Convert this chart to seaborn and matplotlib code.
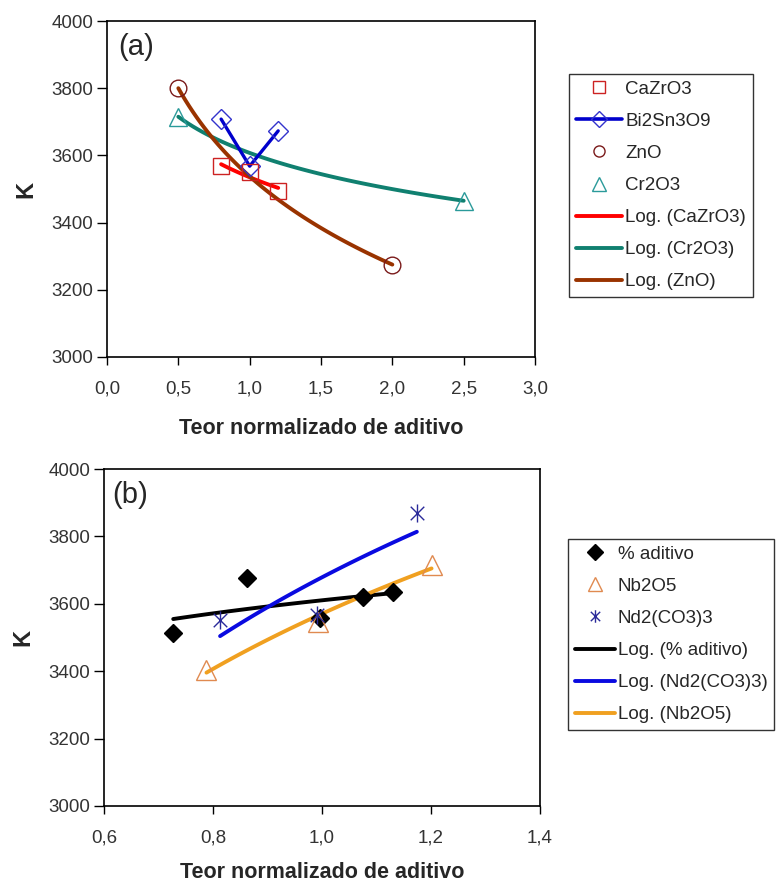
import numpy as np
import pandas as pd
import matplotlib
matplotlib.use("Agg")
import matplotlib.pyplot as plt
from matplotlib.lines import Line2D
from matplotlib.path import Path
import seaborn as sns

sns.set_style("white")
plt.rcParams['font.family'] = ['Liberation Sans', 'DejaVu Sans']

# ---- data, panel (a) ----
cazro3_x = [0.8, 1.0, 1.2]
cazro3_k = [3567, 3550, 3495]
bi2sn3o9_x = [0.8, 1.0, 1.2]
bi2sn3o9_k = [3708, 3568, 3673]
zno_x = [0.5, 2.0]
zno_k = [3800, 3275]
cr2o3_x = [0.5, 2.5]
cr2o3_k = [3715, 3465]

# ---- data, panel (b) ----
aditivo_x = [0.727, 0.862, 0.996, 1.076, 1.131]
aditivo_k = [3514, 3676, 3557, 3621, 3636]
nb2o5_x = [0.788, 0.993, 1.201]
nb2o5_k = [3404, 3547, 3715]
nd_x = [0.813, 0.99, 1.174]
nd_k = [3552, 3567, 3869]

xlabel = "Teor normalizado de aditivo"


def log_trend(x, y, n=60):
    # Excel style logarithmic trendline y = a*ln(x) + b
    a, b = np.polyfit(np.log(x), y, 1)
    xs = np.linspace(min(x), max(x), n)
    return pd.DataFrame({"x": xs, "k": a * np.log(xs) + b})


# asterisk marker like Excel's star
star = Path([(0, -1), (0, 1), (-0.75, -0.75), (0.75, 0.75), (-0.75, 0.75), (0.75, -0.75)],
            [Path.MOVETO, Path.LINETO, Path.MOVETO, Path.LINETO, Path.MOVETO, Path.LINETO])

fig = plt.figure(figsize=(7.76, 8.86), dpi=100)
ax1 = fig.add_axes([107 / 776, 1 - 357 / 886, 428 / 776, 336 / 886])
ax2 = fig.add_axes([104 / 776, 1 - 806 / 886, 436 / 776, 337 / 886])

c_red, c_blue, c_brown, c_teal = "#FF0000", "#0000CC", "#993300", "#108070"

# panel (a) trend lines
for x, y, col in [(cazro3_x, cazro3_k, c_red), (cr2o3_x, cr2o3_k, c_teal), (zno_x, zno_k, c_brown)]:
    sns.lineplot(data=log_trend(x, y), x="x", y="k", color=col, lw=2.8, ax=ax1)
sns.lineplot(x=bi2sn3o9_x, y=bi2sn3o9_k, color=c_blue, lw=2.4, sort=False, ax=ax1,
             marker="D", markersize=10, markerfacecolor="none", markeredgecolor="#3333CC",
             markeredgewidth=1.0)
ax1.plot(cazro3_x, cazro3_k, ls="none", marker="s", ms=12, mfc="none", mec="#CC2222", mew=1.0)
ax1.plot(zno_x, zno_k, ls="none", marker="o", ms=12, mfc="none", mec="#7A1A1A", mew=1.0)
ax1.plot(cr2o3_x, cr2o3_k, ls="none", marker="^", ms=13, mfc="none", mec="#2A9A9A", mew=1.0)

# panel (b) trend lines
sns.lineplot(data=log_trend(aditivo_x, aditivo_k), x="x", y="k", color="black", lw=2.8, ax=ax2)
sns.lineplot(data=log_trend(nd_x, nd_k), x="x", y="k", color="#0A0AE0", lw=2.8, ax=ax2)
sns.lineplot(data=log_trend(nb2o5_x, nb2o5_k), x="x", y="k", color="#F0A020", lw=2.8, ax=ax2)
ax2.plot(aditivo_x, aditivo_k, ls="none", marker="D", ms=9, color="black")
ax2.plot(nb2o5_x, nb2o5_k, ls="none", marker="^", ms=14, mfc="none", mec="#E08A50", mew=1.0)
ax2.plot(nd_x, nd_k, ls="none", marker=star, ms=13, color="#2A2A9A", mew=1.0)

tick_fs = 13.5
for ax, lo, hi, step, lp in [(ax1, 0.0, 3.0, 0.5, 15), (ax2, 0.6, 1.4, 0.2, 11)]:
    ax.set_xlim(lo, hi)
    ax.set_ylim(3000, 4000)
    xt = np.arange(lo, hi + step / 2, step)
    ax.set_xticks(xt)
    ax.set_xticklabels([f"{v:.1f}".replace(".", ",") for v in xt], fontsize=tick_fs, color="#333333")
    yt = np.arange(3000, 4001, 200)
    ax.set_yticks(yt)
    ax.set_yticklabels([str(v) for v in yt], fontsize=tick_fs, color="#333333")
    ax.tick_params(axis="x", direction="out", length=6, width=1, color="black", bottom=True, pad=11)
    ax.tick_params(axis="y", direction="out", length=7, width=1, color="black", left=True, pad=3)
    for s in ax.spines.values():
        s.set_color("black")
        s.set_linewidth(1.2)
    ax.set_xlabel(xlabel, fontsize=15.5, fontweight="bold", labelpad=lp)
    ax.set_ylabel("K", fontsize=17, fontweight="bold", labelpad=10)

ax1.text(11 / 428, 1 - 12 / 336, "(a)", transform=ax1.transAxes, fontsize=21, va="top", ha="left")
ax2.text(8 / 436, 1 - 12 / 337, "(b)", transform=ax2.transAxes, fontsize=21, va="top", ha="left")

leg_kw = dict(loc="upper left", fontsize=13.5, frameon=True, fancybox=False, edgecolor="black",
              handletextpad=0.15, labelspacing=0.8, borderpad=0.35, borderaxespad=0)
h1 = [
    Line2D([], [], ls="none", marker="s", ms=9, mfc="none", mec="#CC2222"),
    Line2D([], [], color=c_blue, lw=2.6, marker="D", ms=8, mfc="none", mec="#3333CC"),
    Line2D([], [], ls="none", marker="o", ms=8, mfc="none", mec="#7A1A1A"),
    Line2D([], [], ls="none", marker="^", ms=10, mfc="none", mec="#2A9A9A"),
    Line2D([], [], color=c_red, lw=2.8),
    Line2D([], [], color=c_teal, lw=2.8),
    Line2D([], [], color=c_brown, lw=2.8),
]
l1 = ["CaZrO3", "Bi2Sn3O9", "ZnO", "Cr2O3", "Log. (CaZrO3)", "Log. (Cr2O3)", "Log. (ZnO)"]
fig.legend(h1, l1, bbox_to_anchor=(569 / 776, 1 - 74 / 886), handlelength=2.5, **leg_kw)

h2 = [
    Line2D([], [], ls="none", marker="D", ms=8, color="black"),
    Line2D([], [], ls="none", marker="^", ms=10, mfc="none", mec="#E08A50"),
    Line2D([], [], ls="none", marker=star, ms=9, color="#2A2A9A"),
    Line2D([], [], color="black", lw=2.8),
    Line2D([], [], color="#0A0AE0", lw=2.8),
    Line2D([], [], color="#F0A020", lw=2.8),
]
l2 = ["% aditivo", "Nb2O5", "Nd2(CO3)3", "Log. (% aditivo)", "Log. (Nd2(CO3)3)", "Log. (Nb2O5)"]
fig.legend(h2, l2, bbox_to_anchor=(568 / 776, 1 - 539 / 886), handlelength=2.15, **leg_kw)

fig.savefig("out.png", dpi=100, facecolor="white")
